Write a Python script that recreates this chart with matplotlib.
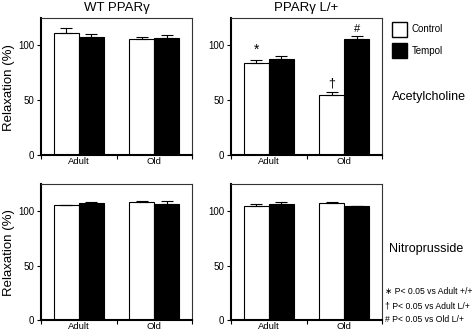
import matplotlib
matplotlib.use("Agg")
import matplotlib.pyplot as plt
from matplotlib.patches import Rectangle
import numpy as np

plt.rcParams['font.family'] = ['Liberation Sans', 'DejaVu Sans']

groups = ["Adult", "Old"]
series = ["Control", "Tempol"]
ach_wt_ctrl = [111, 106]
ach_wt_ctrl_err = [5, 1.8]
ach_wt_temp = [108, 107]
ach_wt_temp_err = [2, 2.5]
ach_l_ctrl = [84, 55]
ach_l_ctrl_err = [2.7, 2.8]
ach_l_temp = [87.5, 105.5]
ach_l_temp_err = [3, 3]
np_wt_ctrl = [105.5, 108]
np_wt_ctrl_err = [0.6, 1.5]
np_wt_temp = [107.5, 107]
np_wt_temp_err = [1.2, 2.5]
np_l_ctrl = [104.5, 107.5]
np_l_ctrl_err = [2.3, 1.0]
np_l_temp = [106.5, 104.5]
np_l_temp_err = [2.0, 0.6]
titles = ["WT PPARγ", "PPARγ L/+"]
yticks = [0, 50, 100]

fig = plt.figure(figsize=(4.75, 3.33), dpi=100)
W, H = 475, 333

def add_ax(x0, x1, y0, y1):
    return fig.add_axes([x0 / W, 1 - y1 / H, (x1 - x0) / W, (y1 - y0) / H])

axes = [
    [add_ax(41, 192, 18, 155), add_ax(231, 382, 18, 155)],
    [add_ax(41, 192, 184, 320), add_ax(231, 382, 184, 320)],
]
data = [
    [(ach_wt_ctrl, ach_wt_ctrl_err, ach_wt_temp, ach_wt_temp_err),
     (ach_l_ctrl, ach_l_ctrl_err, ach_l_temp, ach_l_temp_err)],
    [(np_wt_ctrl, np_wt_ctrl_err, np_wt_temp, np_wt_temp_err),
     (np_l_ctrl, np_l_ctrl_err, np_l_temp, np_l_temp_err)],
]
centers = np.array([0.5, 1.5])
bw = 0.33
for r in range(2):
    for c in range(2):
        ax = axes[r][c]
        cv, ce, tv, te = data[r][c]
        ax.bar(centers - bw / 2, cv, bw, color='white', edgecolor='black', linewidth=0.8, zorder=2)
        ax.bar(centers + bw / 2, tv, bw, color='black', edgecolor='black', linewidth=0.8, zorder=2)
        for x, v, e in zip(centers - bw / 2, cv, ce):
            ax.errorbar(x, v, yerr=[[0], [e]], color='black', capsize=4, elinewidth=0.8, capthick=0.8, zorder=3)
        for x, v, e in zip(centers + bw / 2, tv, te):
            ax.errorbar(x, v, yerr=[[0], [e]], color='black', capsize=4, elinewidth=0.8, capthick=0.8, zorder=3)
        ax.set_xlim(0, 2)
        ax.set_ylim(0, 125)
        ax.set_yticks(yticks)
        ax.set_yticklabels([str(t) for t in yticks], fontsize=7)
        ax.set_xticks([0, 1, 2])
        ax.set_xticklabels([])
        ax.set_xticks(centers, minor=True)
        ax.set_xticklabels(groups, minor=True, fontsize=6.8)
        ax.tick_params(axis='x', which='minor', length=0, pad=1.5)
        ax.tick_params(axis='x', which='major', length=3, direction='out')
        ax.tick_params(axis='y', length=3, direction='out', pad=2)
        for s in ['left', 'bottom']:
            ax.spines[s].set_linewidth(1.5)
        for s in ['top', 'right']:
            ax.spines[s].set_linewidth(0.8)
            ax.spines[s].set_color('#333333')
        if r == 0:
            ax.set_title(titles[c], fontsize=9.5, pad=5)

fig.text(9 / W, 1 - 88 / H, "Relaxation (%)", fontsize=9.5, rotation=90, va='center', ha='center')
fig.text(9 / W, 1 - 253 / H, "Relaxation (%)", fontsize=9.5, rotation=90, va='center', ha='center')

# significance markers
ax = axes[0][1]
ax.text(centers[0] - bw / 2, ach_l_ctrl[0] + ach_l_ctrl_err[0] + 3, "*", ha='center', va='bottom', fontsize=10)
ax.text(centers[1] - bw / 2, ach_l_ctrl[1] + ach_l_ctrl_err[1] + 2, "†", ha='center', va='bottom', fontsize=9)
ax.text(centers[1] + bw / 2, ach_l_temp[1] + ach_l_temp_err[1] + 2, "#", ha='center', va='bottom', fontsize=8)

# legend
fig.patches.append(Rectangle((392 / W, 1 - 37 / H), 15 / W, 15 / H, transform=fig.transFigure,
                             facecolor='white', edgecolor='black', linewidth=1))
fig.patches.append(Rectangle((392 / W, 1 - 58 / H), 15 / W, 15 / H, transform=fig.transFigure,
                             facecolor='black', edgecolor='black', linewidth=1))
fig.text(412 / W, 1 - 29.5 / H, series[0], fontsize=7, va='center', ha='left')
fig.text(412 / W, 1 - 50.5 / H, series[1], fontsize=7, va='center', ha='left')

fig.text(392 / W, 1 - 97 / H, "Acetylcholine", fontsize=9, va='center', ha='left')
fig.text(389 / W, 1 - 249 / H, "Nitroprusside", fontsize=9, va='center', ha='left')
notes = ["∗ P< 0.05 vs Adult +/+", "† P< 0.05 vs Adult L/+", "# P< 0.05 vs Old L/+"]
for i, n in enumerate(notes):
    fig.text(385 / W, 1 - (292 + i * 14) / H, n, fontsize=6.2, va='center', ha='left')

fig.savefig("out.png", dpi=100)
